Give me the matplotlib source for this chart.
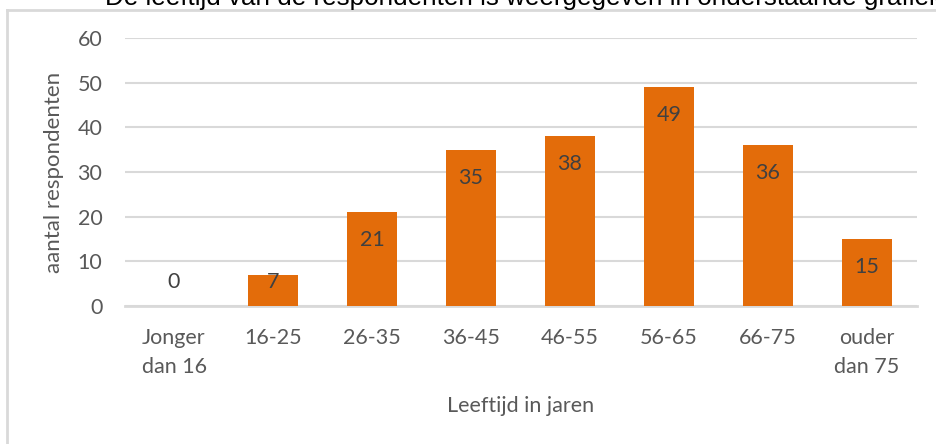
import matplotlib.pyplot as plt
import matplotlib.patheffects as pe
from matplotlib.lines import Line2D

categories = ['Jonger\ndan 16', '16-25', '26-35', '36-45', '46-55', '56-65', '66-75', 'ouder\ndan 75']
counts = [0, 7, 21, 35, 38, 49, 36, 15]
yticks = [0, 10, 20, 30, 40, 50, 60]

W, H = 936, 444
bar_color = '#E36C0A'
grid_color = '#D9D9D9'
text_color = '#595959'
fs = 15.5

plt.rcParams['font.family'] = ['Lato', 'DejaVu Sans']

fig = plt.figure(figsize=(W / 100, H / 100), dpi=100)
ax = fig.add_axes([124.5 / W, (H - 306) / H, (916.5 - 124.5) / W, (306 - 38) / H])

x = range(len(categories))
bars = ax.bar(x, counts, width=0.5, color=bar_color, zorder=3)
for b in bars:
    b.set_path_effects([pe.SimplePatchShadow(offset=(0.5, -0.5), shadow_rgbFace='#999999', alpha=0.5), pe.Normal()])

# data labels inside the bar tops
for xi, v in zip(x, counts):
    ly = max(v - 6.3, 5.4)
    ax.text(xi, ly, str(v), ha='center', va='center', fontsize=fs, color='#404040', zorder=4)

ax.set_xlim(-0.5, len(categories) - 0.5)
ax.set_ylim(0, 60)
ax.set_yticks(yticks)
ax.set_xticks(list(x))
ax.set_xticklabels(categories, linespacing=1.55)
ax.tick_params(axis='both', length=0, labelsize=fs, labelcolor=text_color)
ax.tick_params(axis='y', pad=16)
ax.tick_params(axis='x', pad=16)
ax.grid(axis='y', color=grid_color, linewidth=1.5, zorder=0)
for s in ['top', 'right', 'left']:
    ax.spines[s].set_visible(False)
ax.spines['bottom'].set_color(grid_color)
ax.spines['bottom'].set_linewidth(2)

ax.set_ylabel('aantal respondenten', fontsize=16, color=text_color, labelpad=10)
ax.set_xlabel('Leeftijd in jaren', fontsize=fs, color=text_color, labelpad=14)

# chart frame (cut off at right and bottom)
fig.add_artist(Line2D([7.5 / W, 7.5 / W], [0, 1 - 10 / H], color=grid_color, linewidth=2))
fig.add_artist(Line2D([7.5 / W, 1], [1 - 10 / H, 1 - 10 / H], color=grid_color, linewidth=2))

# title line from the document, partly cut off at the top
fig.text(105 / W, 1 - 4.5 / H, 'De leeftijd van de respondenten is weergegeven in onderstaande grafiek',
         fontsize=18.7, color='black', family='Liberation Sans', ha='left', va='baseline')

fig.savefig('out.png', dpi=100)
